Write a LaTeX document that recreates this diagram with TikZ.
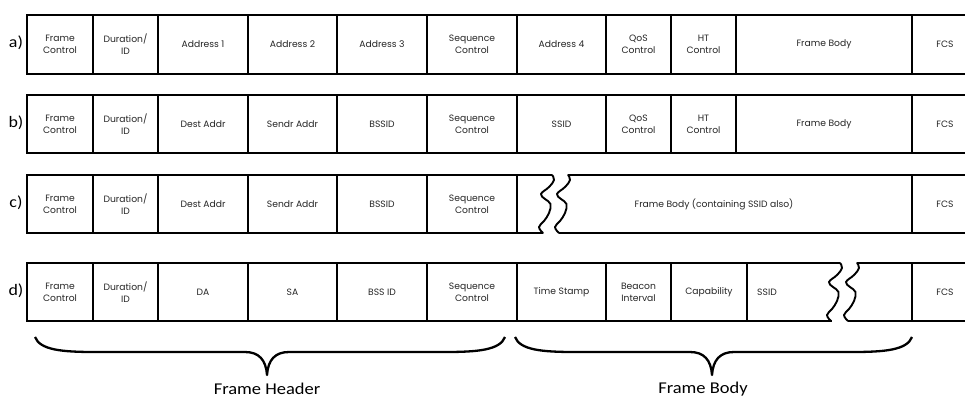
\documentclass[tikz,border=0pt]{standalone}
\usepackage{fontspec}
\setmainfont{Carlito}
\newfontfamily\cellfont{Poppins}
\newfontfamily\labfont[FakeStretch=1.12]{Carlito}
\newcommand\fcell[6]{\node[cellbox, minimum width={(#3-#2)*1pt}, minimum height={(#5-#4)*1pt}] (#1) at ({(#2+#3)/2},{(#4+#5)/2}) {#6};}
\newcommand\hdrrow[5]{% prefix, top, bottom, addr1, addr2
  \fcell{#1fc}{27}{93}{#2}{#3}{Frame\\Control}
  \fcell{#1dur}{93}{158}{#2}{#3}{Duration/\\ID}
  \fcell{#1aa}{158}{248}{#2}{#3}{#4}
  \fcell{#1ab}{248}{337}{#2}{#3}{#5}
}
\begin{document}
\begin{tikzpicture}[x=1pt,y=-1pt,
  cellbox/.style={draw, line width=2.8pt, inner sep=0pt, outer sep=0pt, align=center,
    font=\cellfont\fontsize{9.2}{11.8}\selectfont, text=black!85},
  celltext/.style={inner sep=0pt, align=center, font=\cellfont\fontsize{9.2}{11.8}\selectfont, text=black!85},
  rowlabel/.style={font=\labfont\fontsize{16}{18}\selectfont, inner sep=0pt},
  edge/.style={line width=2.8pt},
  wave/.style={line width=1.9pt, line join=round, line cap=round},
  bracepath/.style={line width=2.3pt, line join=round},
  bracelabel/.style={font=\labfont\fontsize{16.5}{20}\selectfont, inner sep=0pt},
  breakwave/.pic={\draw[wave] plot[smooth, tension=0.7] coordinates
     {(0,0) (2,5) (-3,12) (-11,19) (-7,24) (-1.5,29) (-3,38) (-8,46) (-13,52) (-9,58)};}
]
\useasboundingbox (0,0) rectangle (965,397);
\clip (0,0) rectangle (965,397);
\fill[white] (0,0) rectangle (965,397);

% row labels
\node[rowlabel] (la) at (16,43) {a)};
\node[rowlabel] (lb) at (16,123) {b)};
\node[rowlabel] (lc) at (16,203) {c)};
\node[rowlabel] (ld) at (16,291) {d)};

% row a
\hdrrow{a}{15}{74}{Address 1}{Address 2}
\fcell{aac}{337}{427}{15}{74}{Address 3}
\fcell{aseq}{427}{517}{15}{74}{Sequence\\Control}
\fcell{aad}{517}{606}{15}{74}{Address 4}
\fcell{aqos}{606}{671}{15}{74}{QoS\\Control}
\fcell{aht}{671}{736}{15}{74}{HT\\Control}
\fcell{abody}{736}{912}{15}{74}{Frame Body}
\fcell{afcs}{912}{978}{15}{74}{FCS}

% row b
\hdrrow{b}{95}{153}{Dest Addr}{Sendr Addr}
\fcell{bbss}{337}{427}{95}{153}{BSSID}
\fcell{bseq}{427}{517}{95}{153}{Sequence\\Control}
\fcell{bssid}{517}{606}{95}{153}{SSID}
\fcell{bqos}{606}{671}{95}{153}{QoS\\Control}
\fcell{bht}{671}{736}{95}{153}{HT\\Control}
\fcell{bbody}{736}{912}{95}{153}{Frame Body}
\fcell{bfcs}{912}{978}{95}{153}{FCS}

% row c
\hdrrow{c}{175}{233}{Dest Addr}{Sendr Addr}
\fcell{cbss}{337}{427}{175}{233}{BSSID}
\fcell{cseq}{427}{517}{175}{233}{Sequence\\Control}
\draw[edge] (517,175) -- (552,175);
\draw[edge] (517,233) -- (543,233);
\pic at (552,175) {breakwave};
\pic at (568,175) {breakwave};
\draw[edge] (568,175) -- (912,175);
\draw[edge] (559,233) -- (912,233);
\node[celltext] (cbody) at (714,204) {Frame Body (containing SSID also)};
\fcell{cfcs}{912}{978}{175}{233}{FCS}

% row d
\hdrrow{d}{263}{321}{DA}{SA}
\fcell{dbss}{337}{427}{263}{321}{BSS ID}
\fcell{dseq}{427}{517}{263}{321}{Sequence\\Control}
\fcell{dts}{517}{606}{263}{321}{Time Stamp}
\fcell{dbi}{606}{671}{263}{321}{Beacon\\Interval}
\fcell{dcap}{671}{747}{263}{321}{Capability}
\draw[edge] (747,263) -- (840,263);
\draw[edge] (747,321) -- (832,321);
\pic at (840,263) {breakwave};
\pic at (857,263) {breakwave};
\draw[edge] (857,263) -- (912,263);
\draw[edge] (848,321) -- (912,321);
\node[celltext, anchor=west] (dssid) at (757,292) {SSID};
\fcell{dfcs}{912}{978}{263}{321}{FCS}

% braces
\draw[bracepath] (35,337) .. controls (40,350) and (62,352) .. (95,352) -- (245,352)
  .. controls (259,352) and (266,360) .. (267,375)
  .. controls (268,360) and (275,352) .. (289,352) -- (445,352)
  .. controls (478,352) and (500,350) .. (505,337);
\draw[bracepath] (515,337) .. controls (520,350) and (542,352) .. (575,352) -- (690,352)
  .. controls (704,352) and (711,360) .. (712,375)
  .. controls (713,360) and (720,352) .. (734,352) -- (852,352)
  .. controls (885,352) and (907,350) .. (912,337);
\node[bracelabel] (fh) at (267,389) {Frame Header};
\node[bracelabel] (fb) at (703,389) {Frame Body};
\end{tikzpicture}
\end{document}
